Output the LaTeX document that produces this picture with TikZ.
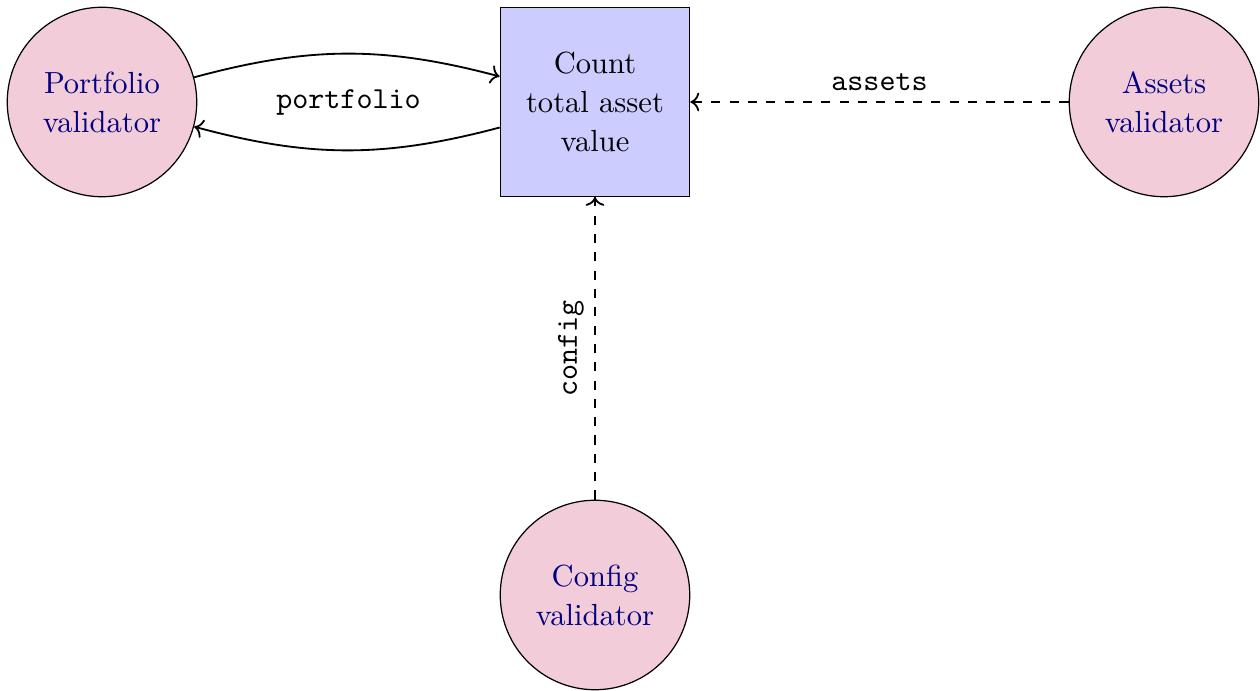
\documentclass[tikz,border=0pt]{standalone}
\usetikzlibrary{arrows.meta}
\begin{document}
\begin{tikzpicture}[x=0.011508cm, y=-0.011508cm,
  validator/.style={circle, draw=black, fill=purple!20, text=blue!50!black,
    minimum size=2.18cm, align=center, inner sep=0pt, font=\fontsize{10}{12.8}\selectfont},
  taskbox/.style={rectangle, draw=black, fill=blue!20, minimum width=2.18cm,
    minimum height=2.17cm, align=center, inner sep=0pt, font=\fontsize{10}{12.8}\selectfont},
  flow/.style={->, semithick},
  dflow/.style={->, semithick, dashed},
  lbl/.style={font=\ttfamily}]
\useasboundingbox (0,0) rectangle (1260,691);
\node[validator] (pv) at (102,102) {Portfolio\\validator};
\node[taskbox] (box) at (595,102) {Count\\total asset\\value};
\node[validator] (av) at (1164,102) {Assets\\validator};
\node[validator] (cv) at (595,595) {Config\\validator};
\draw[flow] (pv) to[bend left=15] (box);
\draw[flow] (box) to[bend left=15] (pv);
\path (pv) -- node[lbl, midway] (plabel) {portfolio} (box);
\draw[dflow] (av) -- node[lbl, midway, above] (alabel) {assets} (box);
\draw[dflow] (cv) -- node[lbl, midway, above, sloped] (clabel) {config} (box);
\end{tikzpicture}
\end{document}
